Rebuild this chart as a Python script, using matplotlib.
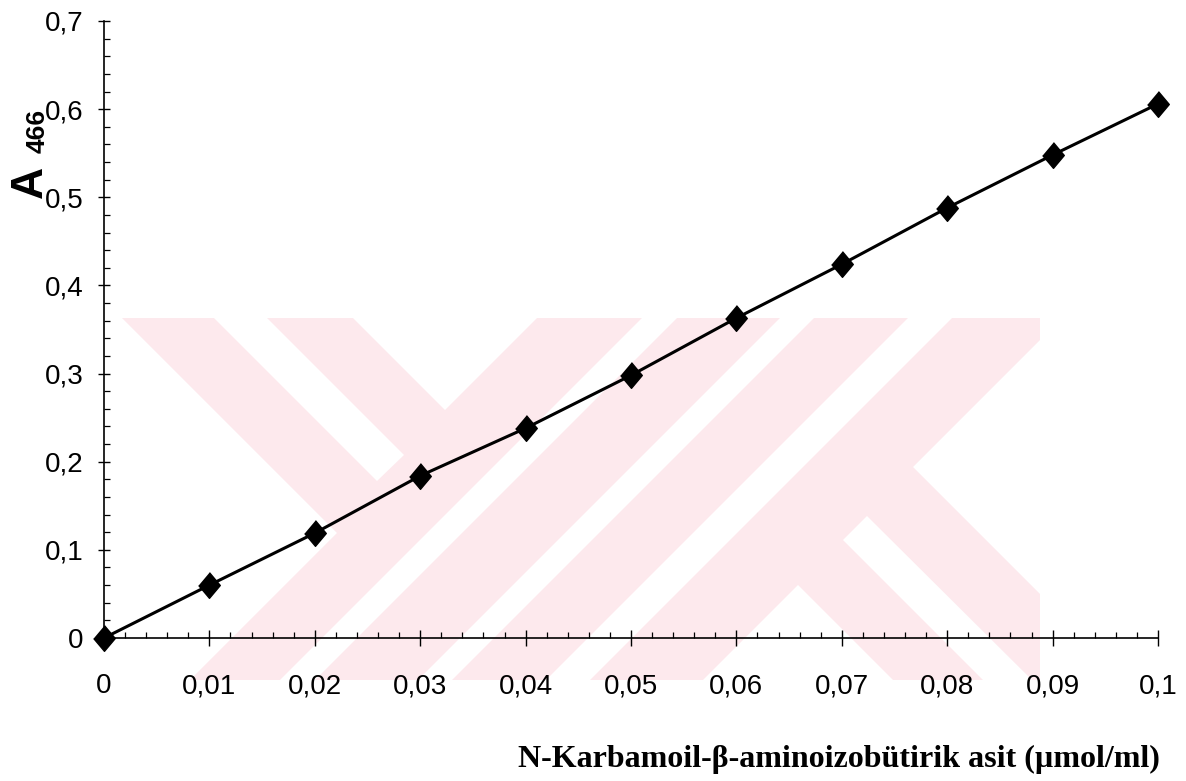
import matplotlib
matplotlib.use("Agg")
import matplotlib.pyplot as plt
from matplotlib.patches import Polygon
from matplotlib.ticker import MultipleLocator

# concentration (umol/ml) and absorbance at 466 nm
conc = [0.0, 0.01, 0.02, 0.03, 0.04, 0.05, 0.06, 0.07, 0.08, 0.09, 0.1]
absorb = [0.0, 0.060, 0.119, 0.184, 0.238, 0.298, 0.363, 0.424, 0.488, 0.548, 0.606]

x_ticks = [0.0, 0.01, 0.02, 0.03, 0.04, 0.05, 0.06, 0.07, 0.08, 0.09, 0.1]
x_labels = ["0", "0,01", "0,02", "0,03", "0,04", "0,05", "0,06", "0,07", "0,08", "0,09", "0,1"]
y_ticks = [0.0, 0.1, 0.2, 0.3, 0.4, 0.5, 0.6, 0.7]
y_labels = ["0", "0,1", "0,2", "0,3", "0,4", "0,5", "0,6", "0,7"]

W, H = 1186, 781
fig = plt.figure(figsize=(W / 100, H / 100), dpi=100)


def px(points):
    # image pixel coords (y down) -> figure fraction
    return [(x / W, 1 - y / H) for x, y in points]


# faint scanned watermark behind the chart
pink = "#fde9ed"
base = [(122, 318), (1040, 318), (1040, 340), (913, 467), (1040, 594),
        (1040, 680), (190, 680), (337, 533)]
gaps = [
    [(214, 318), (267, 318), (404, 455), (377, 481)],
    [(353, 318), (537, 318), (445, 410)],
    [(642, 318), (677, 318), (315, 680), (280, 680)],
    [(780, 318), (814, 318), (452, 680), (418, 680)],
    [(908, 318), (952, 318), (590, 680), (546, 680)],
    [(843, 540), (867, 516), (1032, 680), (983, 680)],
    [(798, 585), (893, 680), (703, 680)],
]
fig.add_artist(Polygon(px(base), closed=True, transform=fig.transFigure,
                       facecolor=pink, edgecolor="none", zorder=-2))
for g in gaps:
    fig.add_artist(Polygon(px(g), closed=True, transform=fig.transFigure,
                           facecolor="white", edgecolor="none", zorder=-1))

ax = fig.add_axes([104 / W, 1 - 638 / H, 1054 / W, 617 / H])
ax.set_facecolor("none")

diamond = [(0, 1), (0.84, 0), (0, -1), (-0.84, 0)]
ax.plot(conc, absorb, color="black", lw=2.2, marker=diamond, ms=18.5,
        mfc="black", mec="black", clip_on=False, zorder=3)

ax.set_xlim(0, 0.1)
ax.set_ylim(0, 0.7)
for s in ["top", "right"]:
    ax.spines[s].set_visible(False)
for s in ["left", "bottom"]:
    ax.spines[s].set_linewidth(1.2)

ax.set_xticks(x_ticks)
ax.set_xticklabels(x_labels, family="Liberation Sans", fontsize=20)
ax.set_yticks(y_ticks)
ax.set_yticklabels(y_labels, family="Liberation Sans", fontsize=20)
ax.xaxis.set_minor_locator(MultipleLocator(0.002))
ax.yaxis.set_minor_locator(MultipleLocator(0.02))
ax.tick_params(axis="x", which="major", direction="inout", length=12, width=1.0, pad=19.5)
ax.tick_params(axis="y", which="major", direction="inout", length=9, width=1.0, pad=10)
ax.tick_params(which="minor", direction="in", length=4, width=0.9)

# rotated y label "A" with subscript 466
fig.text(42 / W, 1 - 182 / H, "A", rotation=90, rotation_mode="anchor",
         ha="center", va="baseline", family="Liberation Sans",
         fontweight="bold", fontsize=32)
fig.text(45 / W, 1 - 131 / H, "466", rotation=90, rotation_mode="anchor",
         ha="center", va="baseline", family="Liberation Sans",
         fontweight="bold", fontsize=19)

fig.text(1160 / W, 1 - 767 / H, "N-Karbamoil-β-aminoizobütirik asit (µmol/ml)",
         ha="right", va="baseline", family="Liberation Serif",
         fontweight="bold", fontsize=23)

fig.savefig("out.png", dpi=100)
